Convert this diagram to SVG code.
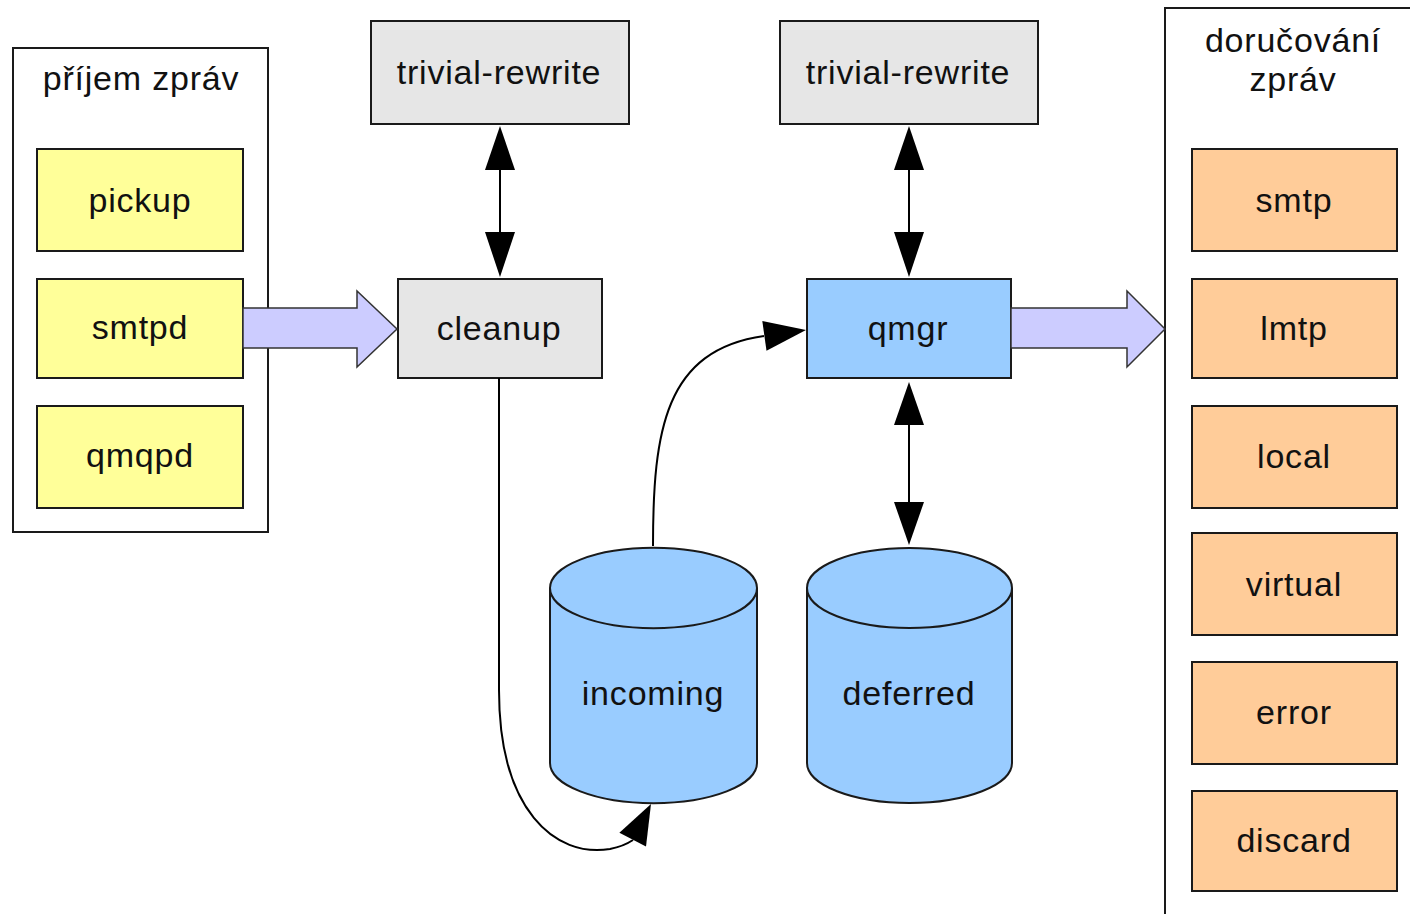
<svg xmlns="http://www.w3.org/2000/svg" width="1410" height="914" viewBox="0 0 1410 914">
<style>
  .box { stroke: #1a1a1a; stroke-width: 2; }
  .cont { fill: #ffffff; stroke: #1a1a1a; stroke-width: 2; }
  .recv { fill: #ffff99; }
  .deliv { fill: #ffcc99; }
  .gray { fill: #e6e6e6; }
  .blue { fill: #99ccff; }
  .fat { fill: #ccccff; stroke: #333333; stroke-width: 1.5; }
  .line { fill: none; stroke: #000000; stroke-width: 2; }
  .head { fill: #000000; }
  text { font-family: "Liberation Sans", Arial, sans-serif; font-size: 34px; letter-spacing: 0.8px; fill: #111111; text-anchor: middle; }
</style>
<rect width="1410" height="914" fill="#ffffff"/>

<g id="prijem">
  <rect class="cont" x="13" y="48" width="255" height="484"/>
  <text x="141" y="90">příjem zpráv</text>
</g>
<g id="pickup"><rect class="box recv" x="37" y="149" width="206" height="102"/><text x="140" y="212">pickup</text></g>
<g id="smtpd"><rect class="box recv" x="37" y="279" width="206" height="99"/><text x="140" y="339">smtpd</text></g>
<g id="qmqpd"><rect class="box recv" x="37" y="406" width="206" height="102"/><text x="140" y="467">qmqpd</text></g>

<g id="doruceni">
  <rect class="cont" x="1165" y="8" width="300" height="1000"/>
  <text x="1293" y="52">doručování</text>
  <text x="1293" y="91">zpráv</text>
</g>
<g id="smtp"><rect class="box deliv" x="1192" y="149" width="205" height="102"/><text x="1294" y="212">smtp</text></g>
<g id="lmtp"><rect class="box deliv" x="1192" y="279" width="205" height="99"/><text x="1294" y="340">lmtp</text></g>
<g id="local"><rect class="box deliv" x="1192" y="406" width="205" height="102"/><text x="1294" y="468">local</text></g>
<g id="virtual"><rect class="box deliv" x="1192" y="533" width="205" height="102"/><text x="1294" y="596">virtual</text></g>
<g id="error"><rect class="box deliv" x="1192" y="662" width="205" height="102"/><text x="1294" y="724">error</text></g>
<g id="discard"><rect class="box deliv" x="1192" y="791" width="205" height="100"/><text x="1294" y="852">discard</text></g>

<g id="trivial-rewrite-1"><rect class="box gray" x="371" y="21" width="258" height="103"/><text x="499" y="84">trivial-rewrite</text></g>
<g id="cleanup"><rect class="box gray" x="398" y="279" width="204" height="99"/><text x="499" y="340">cleanup</text></g>
<g id="trivial-rewrite-2"><rect class="box gray" x="780" y="21" width="258" height="103"/><text x="908" y="84">trivial-rewrite</text></g>
<g id="qmgr"><rect class="box blue" x="807" y="279" width="204" height="99"/><text x="908" y="340">qmgr</text></g>

<g id="incoming">
  <path class="box blue" d="M550,588 L550,763 A103,40 0 0 0 757,763 L757,588 A103,40 0 0 0 550,588 Z"/>
  <path class="box" fill="none" d="M550,588 A103,40 0 0 0 757,588"/>
  <text x="653" y="705">incoming</text>
</g>
<g id="deferred">
  <path class="box blue" d="M807,588 L807,763 A102.5,40 0 0 0 1012,763 L1012,588 A102.5,40 0 0 0 807,588 Z"/>
  <path class="box" fill="none" d="M807,588 A102.5,40 0 0 0 1012,588"/>
  <text x="909" y="705">deferred</text>
</g>

<g id="connectors">
  <polygon class="fat" points="243,308 357,308 357,291 397,329 357,367 357,348 243,348"/>
  <polygon class="fat" points="1011,308 1127,308 1127,291 1165,329 1127,367 1127,348 1011,348"/>
  <line class="line" x1="500" y1="168" x2="500" y2="234"/>
  <polygon class="head" points="500,126 515,170 485,170"/>
  <polygon class="head" points="500,277 515,232 485,232"/>
  <line class="line" x1="909" y1="168" x2="909" y2="234"/>
  <polygon class="head" points="909,126 924,170 894,170"/>
  <polygon class="head" points="909,277 924,232 894,232"/>
  <line class="line" x1="909" y1="420" x2="909" y2="504"/>
  <polygon class="head" points="909,382 924,425 894,425"/>
  <polygon class="head" points="909,545 924,502 894,502"/>
  <path class="line" d="M499,378 L499,690 C499,810 555,858 610,849 C620,847 627,844 633,840"/>
  <polygon class="head" points="651,804 646,846.5 619.4,832.7"/>
  <path class="line" d="M653,546 C653,430 665,350 764,336"/>
  <polygon class="head" points="806,330 762.3,321.1 766.5,350.8"/>
</g>
</svg>
